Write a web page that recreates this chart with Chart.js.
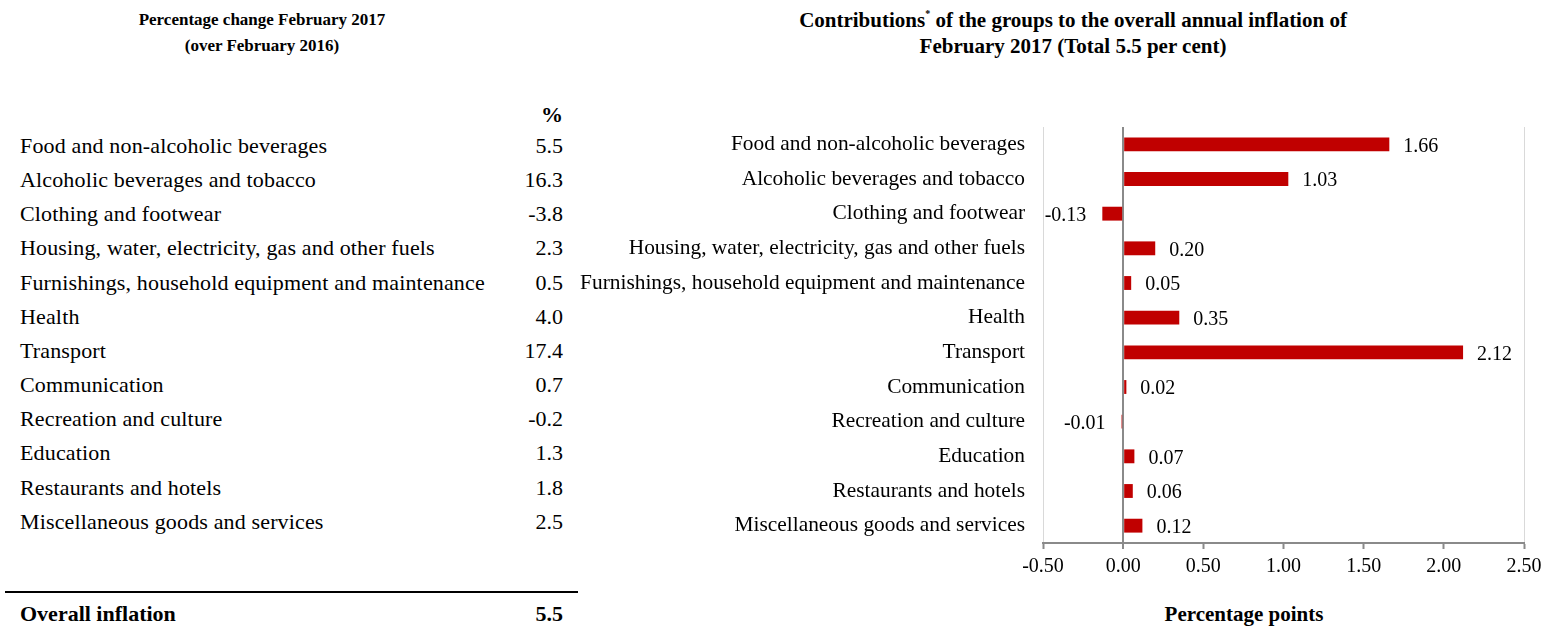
<!DOCTYPE html>
<html>
<head>
<meta charset="utf-8">
<script src="https://cdn.jsdelivr.net/npm/chart.js@4/dist/chart.umd.min.js"></script>
<style>
  body { margin: 0; background: #fff; font-family: "Liberation Serif", serif; color: #000; }
  #page { position: relative; width: 1553px; height: 627px; overflow: hidden; }
  .title { position: absolute; font-weight: bold; text-align: center; line-height: 26px; }
  .row { position: absolute; left: 20px; width: 543px; font-size: 22px; letter-spacing: 0.15px; height: 34px; line-height: 34px; }
  .row .v { position: absolute; right: 0; top: 0; letter-spacing: 0; }
  .bold { font-weight: bold; letter-spacing: 0; }
  #rule { position: absolute; left: 5px; top: 591px; width: 573px; height: 2px; background: #000; }
  #chartBox { position: absolute; left: 560px; top: 110px; width: 993px; height: 480px; }
</style>
</head>
<body>
<div id="page">
  <div class="title" style="left:62px; top:7px; width:400px; font-size:17px;">Percentage change February 2017<br>(over February 2016)</div>
  <div class="title" style="left:773px; top:7px; width:600px; font-size:21px;">Contributions<sup style="font-size:10px; vertical-align:10px; line-height:0;">*</sup> of the groups to the overall annual inflation of<br>February 2017 (Total 5.5 per cent)</div>
  <div id="table"></div>
  <div id="rule"></div>
  <div class="title" style="left:1094px; top:601px; width:300px; font-size:21px;">Percentage points</div>
  <div id="chartBox"><canvas id="contribChart"></canvas></div>
</div>
<script>
// Groups of the consumer price index
const groups = [
  'Food and non-alcoholic beverages',
  'Alcoholic beverages and tobacco',
  'Clothing and footwear',
  'Housing, water, electricity, gas and other fuels',
  'Furnishings, household equipment and maintenance',
  'Health',
  'Transport',
  'Communication',
  'Recreation and culture',
  'Education',
  'Restaurants and hotels',
  'Miscellaneous goods and services'
];

// Annual % change, February 2017 over February 2016
const pctChange = [5.5, 16.3, -3.8, 2.3, 0.5, 4.0, 17.4, 0.7, -0.2, 1.3, 1.8, 2.5];
const overallInflation = 5.5;

// Contributions to overall inflation, percentage points
const contributions = [1.66, 1.03, -0.13, 0.20, 0.05, 0.35, 2.12, 0.02, -0.01, 0.07, 0.06, 0.12];

const xMin = -0.5;
const xMax = 2.5;
const xStep = 0.5;

// Left-hand table
const table = document.getElementById('table');
const rowTops = 129;
const rowGap = 34.15;

function addRow(label, value, top, extraClass) {
  const row = document.createElement('div');
  row.className = 'row' + (extraClass ? ' ' + extraClass : '');
  row.style.top = top + 'px';
  row.innerHTML = '<span>' + label + '</span><span class="v">' + value + '</span>';
  table.appendChild(row);
}

addRow('', '%', 98, 'bold');
groups.forEach((g, i) => {
  addRow(g, pctChange[i].toFixed(1), rowTops + i * rowGap);
});
addRow('Overall inflation', overallInflation.toFixed(1), 597, 'bold');

// Value labels next to each bar
const barLabels = {
  id: 'barLabels',
  afterDatasetsDraw(chart) {
    const { ctx } = chart;
    const meta = chart.getDatasetMeta(0);
    ctx.save();
    ctx.font = '20px "Liberation Serif"';
    ctx.fillStyle = '#000';
    ctx.textBaseline = 'middle';
    meta.data.forEach((bar, i) => {
      const v = contributions[i];
      if (v >= 0) {
        ctx.textAlign = 'left';
        ctx.fillText(v.toFixed(2), bar.x + 14, bar.y + 2);
      } else {
        ctx.textAlign = 'right';
        ctx.fillText(v.toFixed(2), Math.min(bar.x, bar.base) - 16, bar.y + 2);
      }
    });
    ctx.restore();
  }
};

Chart.defaults.font.family = '"Liberation Serif", serif';
Chart.defaults.color = '#000';

new Chart(document.getElementById('contribChart'), {
  type: 'bar',
  data: {
    labels: groups,
    datasets: [{
      data: contributions,
      backgroundColor: '#C00000',
      borderWidth: 0,
      barPercentage: 0.4,
      categoryPercentage: 1.0
    }]
  },
  options: {
    indexAxis: 'y',
    responsive: true,
    maintainAspectRatio: false,
    animation: false,
    layout: { padding: { top: 17, right: 29, left: 0, bottom: 0 } },
    plugins: {
      legend: { display: false },
      tooltip: { enabled: false }
    },
    scales: {
      x: {
        min: xMin,
        max: xMax,
        ticks: {
          stepSize: xStep,
          padding: 6,
          font: { size: 20 },
          callback: value => Number(value).toFixed(2)
        },
        grid: {
          color: ctx => {
            const v = ctx.tick ? ctx.tick.value : null;
            if (v === 0) return '#8a8a8a';
            if (v === xMin || v === xMax) return '#d9d9d9';
            return 'rgba(0,0,0,0)';
          },
          lineWidth: ctx => (ctx.tick && ctx.tick.value === 0 ? 2 : 1),
          tickColor: '#8a8a8a',
          tickLength: 6,
          tickWidth: 2
        },
        border: { display: true, color: '#8a8a8a', width: 2 },
        afterFit: scale => { scale.height = 47; }
      },
      y: {
        grid: { display: false, drawTicks: false },
        border: { display: false },
        ticks: {
          padding: 18,
          font: { size: 21.4 },
          autoSkip: false
        },
        afterFit: scale => {
          scale.width = 483;
          // keep the label padding from pushing the plot area down
          scale.paddingTop = 0;
          scale.paddingBottom = 0;
        }
      }
    }
  },
  plugins: [barLabels]
});
</script>
</body>
</html>
